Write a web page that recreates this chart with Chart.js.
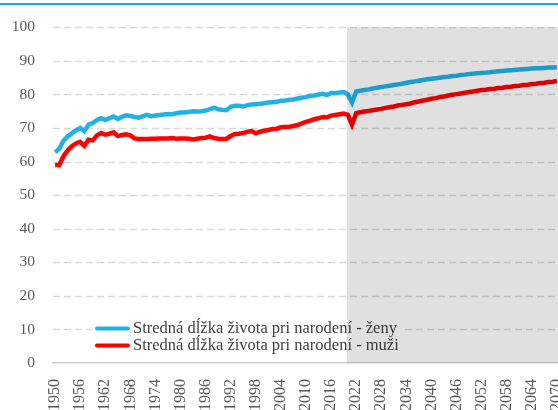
<!DOCTYPE html>
<html>
<head>
<meta charset="utf-8">
<script src="https://cdn.jsdelivr.net/npm/chart.js@4.4.1/dist/chart.umd.min.js"></script>
<style>
  html, body { margin: 0; padding: 0; background: #fff; overflow: hidden; }
  #wrap { position: relative; width: 558px; height: 410px; overflow: hidden; }
  #topline { position: absolute; left: 0; top: 3px; width: 558px; height: 2px; background: #1fa8e0; }
  #Chart { position: absolute; left: 0; top: 0; }
</style>
</head>
<body>
<div id="wrap">
  <div id="topline"></div>
  <canvas id="Chart" width="572" height="410"></canvas>
</div>
<script>
// roky 1950 - 2070
var years = [];
for (var y = 1950; y <= 2070; y++) years.push(String(y));

var projectionStart = '2020';
var tickStep = 6;
var yTicks = [0, 10, 20, 30, 40, 50, 60, 70, 80, 90, 100];

var seriesNames = [
  'Stredná dĺžka života pri narodení - ženy',
  'Stredná dĺžka života pri narodení - muži'
];

var zeny = [
  62.8, 63.8, 66.2, 67.5, 68.4, 69.3, 70.0, 69.1, 71.0, 71.5,
  72.4, 72.9, 72.4, 72.9, 73.4, 72.7, 73.3, 73.8, 73.6, 73.3,
  73.1, 73.5, 73.9, 73.5, 73.7, 73.9, 74.0, 74.2, 74.1, 74.4,
  74.6, 74.6, 74.8, 75.0, 74.9, 75.0, 75.2, 75.6, 76.0, 75.6,
  75.4, 75.3, 76.3, 76.6, 76.6, 76.4, 76.8, 77.0, 77.1, 77.2,
  77.4, 77.6, 77.7, 77.8, 78.1, 78.2, 78.4, 78.5, 78.8, 79.0,
  79.2, 79.6, 79.7, 80.0, 80.2, 79.8, 80.4, 80.4, 80.6, 80.7,
  80.0, 77.6,
  80.9, 81.1, 81.3, 81.5, 81.8, 82.0, 82.2, 82.4, 82.6, 82.8,
  83.0, 83.2, 83.5, 83.7, 83.9, 84.1, 84.3, 84.5, 84.7, 84.8,
  85.0, 85.2, 85.3, 85.5, 85.6, 85.8, 85.9, 86.1, 86.2, 86.3,
  86.4, 86.5, 86.6, 86.8, 86.9, 87.0, 87.1, 87.2, 87.3, 87.4,
  87.5, 87.6, 87.7, 87.8, 87.8, 87.9, 88.0, 88.0, 88.1
];

var muzi = [
  59.0, 59.0, 61.6, 63.3, 64.6, 65.4, 65.9, 64.7, 66.5, 66.3,
  67.8, 68.5, 68.0, 68.3, 68.7, 67.6, 67.9, 68.1, 67.8, 66.9,
  66.7, 66.7, 66.7, 66.8, 66.8, 66.9, 66.9, 66.9, 67.0, 66.8,
  66.9, 66.9, 66.8, 66.6, 66.8, 67.0, 67.1, 67.5, 67.0, 66.8,
  66.7, 66.8, 67.6, 68.2, 68.3, 68.5, 68.9, 69.1, 68.4, 68.9,
  69.2, 69.4, 69.7, 69.8, 70.2, 70.3, 70.4, 70.6, 70.9, 71.4,
  71.8, 72.2, 72.6, 72.9, 73.3, 73.2, 73.7, 73.9, 74.1, 74.3,
  73.9, 71.0,
  74.4, 74.7, 74.9, 75.1, 75.3, 75.5, 75.7, 76.0, 76.2, 76.4,
  76.7, 76.9, 77.1, 77.3, 77.7, 77.9, 78.2, 78.4, 78.7, 78.9,
  79.2, 79.4, 79.7, 79.9, 80.1, 80.3, 80.5, 80.7, 80.9, 81.1,
  81.3, 81.4, 81.6, 81.7, 81.9, 82.0, 82.2, 82.3, 82.5, 82.6,
  82.8, 82.9, 83.1, 83.2, 83.4, 83.5, 83.7, 83.8, 84.0
];

var colors = ['#21b1e6', '#ff0000'];
var fontFamily = "'Liberation Serif', 'DejaVu Serif', serif";

// mriezka, legenda vnutri grafu + sive pozadie projekcie
var insideLegend = {
  id: 'insideLegend',
  beforeDatasetsDraw: function(chart) {
    var ctx = chart.ctx;
    var area = chart.chartArea;
    var ys = chart.scales.y;
    ctx.save();
    ctx.strokeStyle = '#d9d9d9';
    ctx.lineWidth = 1.3;
    ctx.setLineDash([7, 4]);
    for (var k = 0; k < yTicks.length; k++) {
      if (yTicks[k] === 0) continue;
      var gy = Math.round(ys.getPixelForValue(yTicks[k])) + 0.5;
      ctx.beginPath();
      ctx.moveTo(area.left, gy);
      ctx.lineTo(area.right + 20, gy);
      ctx.stroke();
    }
    ctx.setLineDash([]);

    var x0 = area.left + 42;
    var y0 = ys.getPixelForValue(10) - 1;
    ctx.fillStyle = '#ffffff';
    ctx.fillRect(x0 - 2, y0 - 8, 310, 34);
    ctx.font = '16.5px ' + fontFamily;
    ctx.textBaseline = 'middle';
    for (var i = 0; i < seriesNames.length; i++) {
      var yy = y0 + i * 17;
      ctx.strokeStyle = colors[i];
      ctx.lineWidth = 4;
      ctx.lineCap = 'round';
      ctx.beginPath();
      ctx.moveTo(x0 + 2, yy);
      ctx.lineTo(x0 + 33, yy);
      ctx.stroke();
      ctx.fillStyle = '#404040';
      ctx.fillText(seriesNames[i], x0 + 38, yy);
    }
    ctx.restore();
  },
  afterDatasetsDraw: function(chart) {
    var ctx = chart.ctx;
    var area = chart.chartArea;
    var xs = chart.scales.x.getPixelForValue(years.indexOf(projectionStart)) - 1;
    ctx.save();
    ctx.fillStyle = 'rgba(0,0,0,0.12)';
    ctx.fillRect(xs, area.top, area.right + 20 - xs, area.bottom - area.top);
    ctx.restore();
  }
};

var ctx = document.getElementById('Chart').getContext('2d');
var lineGraph = new Chart(ctx, {
  type: 'line',
  data: {
    labels: years,
    datasets: [{
      label: seriesNames[0],
      data: zeny,
      borderColor: colors[0],
      borderWidth: 4.5,
      pointRadius: 0,
      fill: false
    }, {
      label: seriesNames[1],
      data: muzi,
      borderColor: colors[1],
      borderWidth: 4.5,
      pointRadius: 0,
      fill: false
    }]
  },
  options: {
    responsive: false,
    animation: false,
    devicePixelRatio: 1,
    layout: { padding: { top: 16, right: 13, bottom: 0, left: 0 } },
    plugins: {
      legend: { display: false },
      tooltip: { enabled: false }
    },
    scales: {
      x: {
        offset: true,
        grid: { display: false },
        border: { display: true, color: '#d0d0d0', width: 1.5 },
        ticks: {
          autoSkip: false,
          minRotation: 90,
          maxRotation: 90,
          padding: 8,
          color: '#595959',
          font: { family: fontFamily, size: 16 },
          callback: function(value, index) {
            return index % tickStep === 0 ? years[index] : null;
          }
        },
        afterFit: function(scale) {
          scale.height = 47;
          scale.paddingLeft = 0;
          scale.paddingRight = 0;
        }
      },
      y: {
        min: 0,
        max: 100,
        afterBuildTicks: function(scale) {
          scale.ticks = yTicks.map(function(v) { return { value: v }; });
        },
        grid: { display: false, drawTicks: false },
        border: { display: false },
        ticks: {
          padding: 18,
          color: '#595959',
          font: { family: fontFamily, size: 15.5 }
        },
        afterFit: function(scale) {
          scale.width = 53;
        }
      }
    }
  },
  plugins: [insideLegend]
});
</script>
</body>
</html>
